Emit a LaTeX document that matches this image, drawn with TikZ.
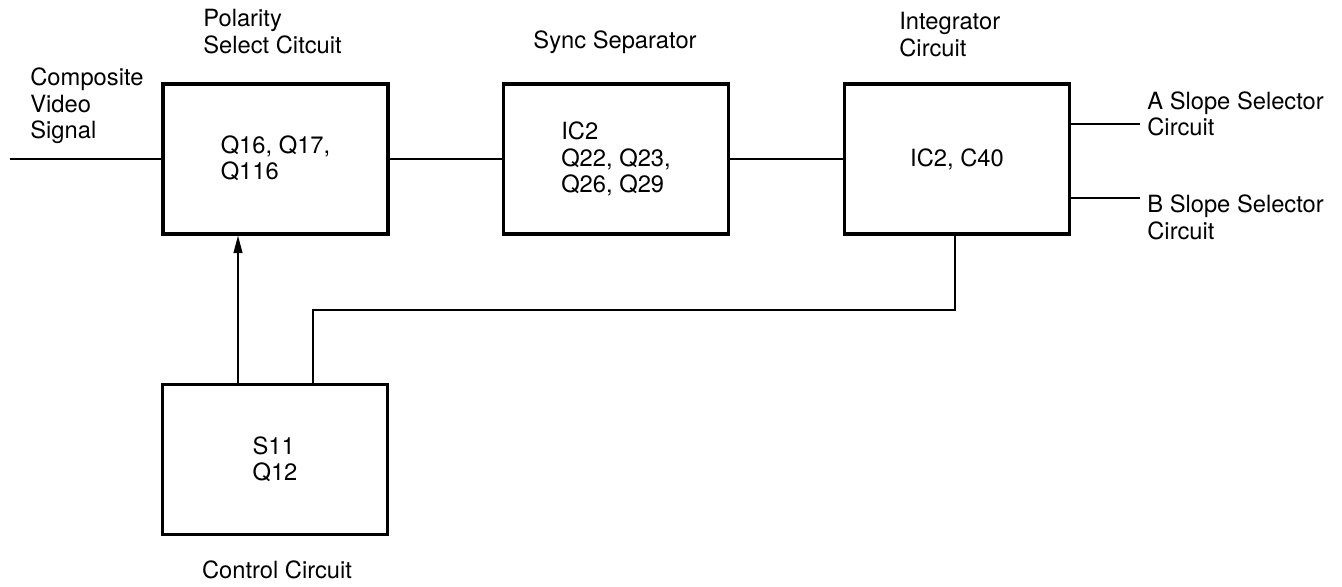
\documentclass[tikz,border=0pt]{standalone}
\usepackage{fontspec}
\setmainfont{TeX Gyre Heros}
\usetikzlibrary{arrows.meta,positioning}

\begin{document}
\begin{tikzpicture}[x=0.02cm,y=-0.02cm,box/.style={draw=black,line width=1.8pt,minimum width=4.5cm,minimum height=3.0cm,align=left,inner sep=0pt,font=\fontsize{13.5}{15}\selectfont},lbl/.style={align=left,inner sep=0pt,font=\fontsize{13.5}{15}\selectfont},wire/.style={line width=.9pt},arr/.style={-{Triangle[length=10pt,width=5pt]},line width=.9pt}]
\useasboundingbox (0,0) rectangle (1342,587);

\node[box] (pol) at(275.5,159) {\\[-6pt]Q16, Q17,\\Q116};
\node[box] (sync) at(616,159) {IC2\\Q22, Q23,\\Q26, Q29};
\node[box] (integ) at(957,159) {IC2, C40};
\node[box] (ctrl) at(275,459.5) {S11\\Q12};

\node[lbl,anchor=west] (vidlbl) at(30,106) {Composite\\Video\\Signal};
\node[lbl,anchor=west] (pollbl) at(203,31.5) {Polarity\\Select Citcuit};
\node[lbl] (synclbl) at(615,42) {Sync Separator};
\node[lbl,anchor=west] (intlbl) at(899,34.5) {Integrator\\Circuit};
\node[lbl] (ctrllbl) at(277,570) {Control Circuit};
\node[lbl,anchor=west] (albl) at(1147,114) {A Slope Selector\\Circuit};
\node[lbl,anchor=west] (blbl) at(1147,217.5) {B Slope Selector\\Circuit};

\coordinate (vin) at(10,159);
\coordinate (aend) at(1140,124);
\coordinate (bend) at(1140,198);
\coordinate (tap) at(238,0);
\coordinate (fba) at(313,310);
\coordinate (fbb) at(955,310);

\draw[wire] (vin)--(pol);
\draw[wire] (pol)--(sync);
\draw[wire] (sync)--(integ);
\draw[wire] (integ.east |- aend)--(aend);
\draw[wire] (integ.east |- bend)--(bend);
\draw[arr] (ctrl.north -| tap)--(pol.south -| tap);
\draw[wire] (ctrl.north -| fba)--(fba)--(fbb)--(integ.south -| fbb);
\end{tikzpicture}
\end{document}
